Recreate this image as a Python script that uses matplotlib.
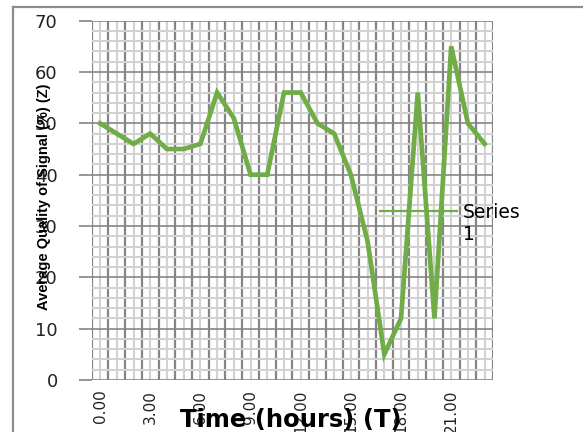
import matplotlib
matplotlib.use('Agg')
import matplotlib.pyplot as plt
from matplotlib.lines import Line2D
from matplotlib.legend_handler import HandlerLine2D
from matplotlib.ticker import FixedLocator, MultipleLocator

# hourly averages, one value per hour of the day
hours = list(range(24))
quality = [50, 48, 46, 48, 45, 45, 46, 56, 51, 40, 40, 56,
           56, 50, 48, 40, 27, 5, 12, 56, 12, 65, 50, 46]
hour_labels = ['%.2f' % h if h % 3 == 0 else '' for h in hours]
series_name = 'Series\n1'

green = '#70ad47'
dark_grid = '#858585'
light_grid = '#d2d2d2'


class FirstLineHandler(HandlerLine2D):
    """Legend line lined up with the first row of a wrapped label."""

    def create_artists(self, legend, orig_handle, xdescent, ydescent,
                       width, height, fontsize, trans):
        artists = super().create_artists(legend, orig_handle, xdescent, ydescent,
                                         width, height, fontsize, trans)
        for a in artists:
            a.set_ydata([y + 0.72 * fontsize for y in a.get_ydata()])
        return artists


fig = plt.figure(figsize=(5.83, 4.32), dpi=100)
W, H = 583.0, 432.0
# chart frame; only its top and left edges fall inside the image
fig.add_artist(Line2D([13 / W, 1.1], [1 - 7 / H, 1 - 7 / H], color='#8c8c8c',
                      linewidth=1.6, transform=fig.transFigure))
fig.add_artist(Line2D([13 / W, 13 / W], [-0.1, 1 - 7 / H], color='#8c8c8c',
                      linewidth=1.6, transform=fig.transFigure))

ax = fig.add_axes([91.7 / W, 1 - 380 / H, (493 - 91.7) / W, (380 - 20.7) / H])

ax.plot(hours, quality, color=green, linewidth=3.4, solid_joinstyle='miter', zorder=3)

ax.set_xlim(-0.5, len(hours) - 0.5)
ax.set_ylim(0, 70)

# category axis: light lines through each hour, dark lines between hours
ax.xaxis.set_major_locator(FixedLocator(hours))
ax.set_xticklabels(hour_labels, rotation=90, fontsize=11, color='#222222')
ax.xaxis.set_minor_locator(FixedLocator([h - 0.5 for h in hours] + [hours[-1] + 0.5]))
ax.tick_params(axis='x', which='both', length=0, pad=7)
ax.grid(True, axis='x', which='major', color=light_grid, linewidth=1.5)
ax.grid(True, axis='x', which='minor', color=dark_grid, linewidth=1.6)

ax.yaxis.set_major_locator(MultipleLocator(10))
ax.yaxis.set_minor_locator(MultipleLocator(2))
ax.tick_params(axis='y', which='major', direction='out', length=9.5, width=1.2,
               color=dark_grid, pad=15, labelsize=13, labelcolor='#222222')
ax.tick_params(axis='y', which='minor', length=0)
ax.grid(True, axis='y', which='major', color=dark_grid, linewidth=1.2)
ax.grid(True, axis='y', which='minor', color=light_grid, linewidth=1.5)
ax.set_axisbelow(True)

for side in ['top', 'right', 'left', 'bottom']:
    ax.spines[side].set_visible(False)

ax.set_xlabel('Time (hours) (T)', fontsize=17.5, fontweight='bold', va='center')
ax.xaxis.set_label_coords(0.495, -0.112)
ax.set_ylabel('Average Quality of Signal (%) (Z)', fontsize=10.5, fontweight='bold',
              family=['Liberation Sans', 'DejaVu Sans'], va='center')
ax.yaxis.set_label_coords(-0.118, 0.51)

handle = Line2D([], [], color=green, linewidth=1.6)
ax.legend([handle], [series_name], loc='upper left', frameon=False,
          handler_map={handle: FirstLineHandler()},
          bbox_to_anchor=(380 / W, 1 - 203 / H), bbox_transform=fig.transFigure,
          fontsize=13.5, handlelength=4.1, handletextpad=0.33, borderpad=0,
          borderaxespad=0, labelspacing=0)

fig.savefig('out.png', dpi=100)
